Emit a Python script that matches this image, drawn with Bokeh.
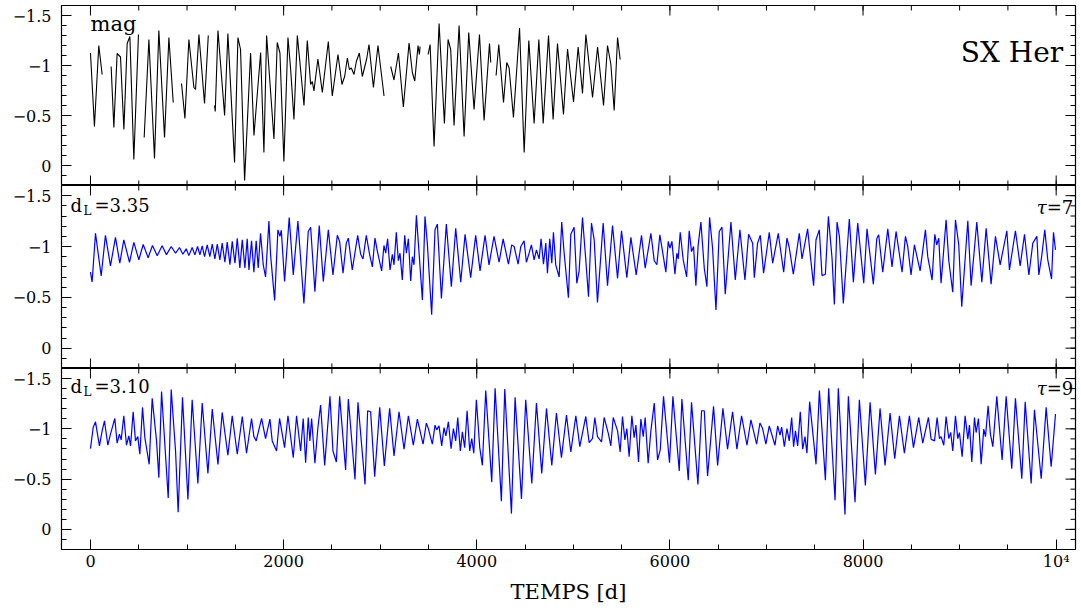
from bokeh.plotting import figure
from bokeh.layouts import column
from bokeh.models import Range1d, FixedTicker, Label
from bokeh.embed import file_html
from bokeh.resources import INLINE

# ---------------- data (time in days, magnitude) ----------------
# observed light curve of SX Her, split where the record has gaps
obs_segments = [
    [(0, -1.125), (41, -0.39), (86, -1.2), (121, -0.91)],
    [(214, -0.99), (242, -0.38), (276, -1.12), (311, -1.085), (346, -0.36), (380, -1.22),
     (408, -1.29), (449, -0.06), (497, -1.31)],
    [(556, -0.28), (605, -1.26), (663, -0.07), (708, -1.35), (767, -0.28), (812, -1.28), (857, -0.63)],
    [(943, -0.82), (978, -0.47), (1019, -1.26), (1071, -0.78), (1088, -0.76), (1123, -1.31),
     (1181, -0.62), (1220, -1.30)],
    [(1285, -0.60), (1292, -0.54), (1320, -1.35), (1389, -0.50), (1423, -1.32), (1492, -0.03),
     (1527, -1.28), (1554, -1.16), (1596, 0.15), (1658, -1.125), (1693, -0.30), (1762, -1.13),
     (1796, -0.13), (1824, -1.30), (1900, -0.265), (1934, -1.23), (1962, -1.125), (2003, -0.04),
     (2045, -1.28), (2073, -0.96), (2107, -0.46), (2142, -1.30), (2169, -1.03), (2211, -0.60),
     (2245, -1.25), (2280, -0.81), (2297, -0.84), (2314, -0.745), (2355, -1.065), (2401, -0.73),
     (2463, -1.24), (2504, -0.695), (2563, -1.11), (2604, -0.81), (2632, -0.89), (2660, -1.075),
     (2681, -0.96), (2701, -0.975), (2729, -0.91), (2753, -1.04), (2784, -1.125), (2815, -0.89),
     (2860, -1.065), (2884, -1.21), (2930, -0.78), (2977, -1.20), (3040, -0.695)],
    [(3109, -0.99), (3143, -0.855), (3189, -1.125), (3240, -0.585), (3299, -1.225), (3333, -0.93),
     (3358, -0.845), (3392, -1.20), (3406, -1.11), (3413, -1.19)],
    [(3496, -1.11), (3517, -1.21), (3558, -0.19), (3610, -1.42), (3665, -0.42), (3703, -1.26),
     (3730, -1.16), (3765, -0.40), (3817, -1.40), (3869, -0.29), (3917, -1.33), (3972, -0.56),
     (4028, -1.31), (4076, -0.45), (4132, -1.22), (4145, -1.03)],
    [(4200, -0.90), (4228, -1.21), (4277, -0.63), (4311, -1.03), (4335, -0.975), (4380, -0.48),
     (4415, -0.975), (4443, -1.375), (4491, -0.13), (4539, -1.25), (4594, -0.42), (4643, -1.26),
     (4688, -0.42), (4743, -1.30), (4791, -0.46), (4836, -1.22), (4898, -0.51), (4940, -1.165),
     (5002, -0.635), (5050, -1.185), (5095, -0.72), (5130, -1.31), (5147, -1.16), (5199, -0.68),
     (5251, -1.185), (5313, -0.60), (5354, -1.20), (5389, -1.01), (5423, -0.55), (5458, -1.28),
     (5485, -1.06)],
]

# model with d_L = 3.35, tau = 7
model_335 = [
    (0, -0.747), (17, -0.65), (52, -1.13), (111, -0.71), (155, -1.11), (207, -0.81), (259, -1.09),
    (304, -0.835), (345, -1.066), (404, -0.845), (449, -1.04), (501, -0.87), (546, -1.02),
    (597, -0.89), (642, -1.01), (691, -0.91), (742, -1.007), (787, -0.92), (836, -1.0), (881, -0.934),
    (922, -0.99), (957, -0.924), (991, -0.977), (1019, -0.91), (1053, -0.99), (1081, -0.918),
    (1109, -1.0), (1133, -0.918), (1157, -1.007), (1181, -0.90), (1209, -1.016), (1236, -0.90),
    (1261, -1.023), (1288, -0.878), (1313, -1.023), (1340, -0.868), (1364, -1.033), (1392, -0.845),
    (1416, -1.043), (1444, -0.82), (1468, -1.05), (1496, -0.835), (1520, -1.08), (1547, -0.79),
    (1572, -1.066), (1599, -0.79), (1623, -1.075), (1641, -0.77), (1668, -1.056), (1692, -0.747),
    (1716, -1.056), (1737, -0.79), (1761, -1.13), (1789, -0.82), (1813, -0.70), (1848, -1.25),
    (1865, -0.918), (1907, -0.47), (1941, -1.164), (1962, -1.10), (1976, -1.16), (2010, -0.655),
    (2058, -1.286), (2100, -0.72), (2148, -1.25), (2210, -0.44), (2255, -1.148), (2280, -1.19),
    (2324, -0.556), (2369, -1.207), (2411, -0.655), (2463, -1.164),
    (2511, -0.72), (2556, -1.11), (2580, -1.05), (2615, -0.737), (2649, -1.033), (2670, -1.082),
    (2711, -0.77), (2767, -1.11), (2798, -0.924), (2822, -0.878), (2856, -1.11), (2891, -0.918),
    (2919, -0.80), (2946, -1.082), (2970, -0.957), (3015, -0.76), (3039, -1.01), (3057, -0.934),
    (3077, -1.076), (3102, -0.77), (3126, -0.924), (3143, -0.82), (3167, -1.14), (3188, -0.86),
    (3205, -0.934), (3229, -0.67), (3254, -1.11), (3271, -0.934), (3292, -1.076), (3316, -0.66),
    (3333, -0.90), (3350, -0.82), (3375, -1.306), (3409, -0.85), (3437, -0.474), (3464, -1.296),
    (3488, -1.033), (3533, -0.33), (3568, -1.164), (3592, -1.22), (3634, -0.49), (3685, -1.22),
    (3737, -0.605), (3782, -1.18), (3834, -0.648), (3879, -1.12), (3937, -0.694), (3989, -1.11),
    (4034, -0.76), (4086, -1.11), (4127, -0.82), (4179, -1.10), (4231, -0.845), (4273, -1.076),
    (4328, -0.826), (4362, -1.016), (4387, -1.0), (4428, -0.826), (4456, -1.0), (4490, -1.056),
    (4514, -0.845), (4542, -0.934), (4566, -1.016), (4594, -0.868), (4618, -0.967), (4646, -0.878),
    (4666, -1.076), (4691, -0.826), (4715, -1.033), (4732, -0.737), (4756, -1.076), (4777, -0.835),
    (4794, -1.14), (4818, -0.82), (4853, -0.70), (4880, -1.24), (4905, -0.934), (4949, -0.497),
    (4974, -1.12), (5008, -1.19),
    (5036, -0.638), (5060, -0.76), (5095, -1.286), (5129, -0.868), (5157, -0.507), (5188, -1.23),
    (5216, -1.066), (5250, -0.45), (5309, -1.23), (5354, -0.615), (5406, -1.207), (5458, -0.687),
    (5499, -1.155), (5554, -0.694), (5596, -1.09), (5651, -0.72), (5706, -1.11), (5744, -0.786),
    (5803, -1.13), (5838, -0.86), (5865, -0.82), (5896, -1.115), (5924, -0.95), (5958, -0.747),
    (5983, -1.05), (6000, -0.983), (6021, -1.05), (6052, -0.727), (6072, -0.934), (6086, -0.878),
    (6107, -1.14), (6138, -0.868), (6173, -0.70), (6200, -1.155), (6224, -0.95), (6245, -1.0),
    (6269, -0.615), (6293, -1.016), (6321, -1.24), (6356, -0.786), (6383, -0.605), (6411, -1.286),
    (6442, -0.983), (6477, -0.375), (6511, -1.148), (6539, -1.19), (6573, -0.53), (6632, -1.24),
    (6677, -0.67), (6725, -1.164), (6777, -0.67), (6815, -1.12), (6857, -1.033), (6874, -0.694),
    (6908, -1.033), (6936, -1.11), (6970, -0.737), (7029, -1.14), (7064, -0.835), (7122, -1.13),
    (7178, -0.747), (7212, -1.082), (7236, -0.99), (7278, -0.727), (7340, -1.13), (7368, -0.878),
    (7426, -1.174), (7454, -0.91), (7488, -0.615), (7513, -1.066), (7547, -1.164),
    (7575, -0.714), (7610, -0.727), (7641, -1.296), (7679, -0.885), (7703, -0.43), (7731, -1.24),
    (7755, -1.10), (7796, -0.44), (7858, -1.27), (7900, -0.648), (7945, -1.23), (8007, -0.638),
    (8041, -1.174), (8107, -0.628), (8142, -1.076), (8162, -1.115), (8204, -0.747), (8256, -1.174),
    (8300, -0.80), (8342, -1.148), (8404, -0.747), (8439, -1.10), (8463, -1.0), (8497, -0.72),
    (8532, -1.016), (8591, -0.76), (8646, -1.164), (8670, -0.90), (8715, -0.67), (8743, -1.12),
    (8763, -1.016), (8784, -1.082), (8808, -0.638), (8860, -1.263), (8888, -0.86), (8929, -0.55),
    (8957, -1.263), (8991, -1.016), (9022, -0.408), (9085, -1.253), (9119, -0.615), (9178, -1.24),
    (9230, -0.648), (9275, -1.18), (9326, -0.628), (9371, -1.10), (9420, -0.82), (9489, -1.155),
    (9516, -0.77), (9578, -1.155), (9627, -0.81), (9672, -1.12), (9717, -0.72), (9758, -1.033),
    (9800, -1.10), (9820, -0.72), (9848, -0.89), (9882, -1.164), (9913, -0.868), (9952, -0.68),
    (9972, -1.14), (9993, -0.967),
]

# model with d_L = 3.10, tau = 9
model_310 = [
    (0, -0.803), (28, -1.013), (52, -1.07), (93, -0.83), (121, -0.98), (145, -1.08), (180, -0.837),
    (207, -0.947), (252, -1.103), (276, -0.857), (300, -0.947), (318, -0.89), (345, -1.13),
    (373, -0.837), (397, -0.93), (415, -0.83), (442, -1.17), (466, -0.88), (490, -0.923),
    (511, -0.747), (539, -1.213), (563, -0.913), (608, -0.647), (639, -1.303), (684, -0.88),
    (708, -0.513), (736, -1.37), (805, -0.313), (836, -1.39), (881, -0.78), (908, -0.17),
    (953, -1.313), (1009, -0.297), (1053, -1.29), (1112, -0.457), (1157, -1.257), (1216, -0.557),
    (1261, -1.197), (1320, -0.647), (1364, -1.163), (1423, -0.737), (1468, -1.13), (1520, -0.747),
    (1572, -1.123), (1616, -0.757), (1668, -1.103), (1692, -0.923), (1716, -0.88), (1772, -1.103),
    (1813, -0.903), (1858, -1.097), (1882, -0.88), (1927, -0.78), (1958, -1.103), (2010, -0.813),
    (2045, -1.13), (2100, -0.713), (2134, -1.13), (2176, -0.78), (2203, -1.103), (2228, -0.663),
    (2255, -1.113), (2272, -0.88), (2290, -1.103), (2324, -0.657), (2355, -1.013), (2383, -1.237),
    (2425, -0.637), (2480, -1.323),
    (2511, -0.78), (2546, -0.67), (2580, -1.323), (2642, -0.59), (2670, -1.297), (2739, -0.497),
    (2770, -1.263), (2843, -0.447), (2870, -1.18), (2901, -1.17), (2943, -0.523), (2995, -1.213),
    (3043, -0.63), (3098, -1.203), (3143, -0.73), (3195, -1.17), (3247, -0.797), (3292, -1.13),
    (3343, -0.837), (3385, -1.097), (3444, -0.847), (3478, -1.057), (3499, -1.003), (3540, -0.847),
    (3568, -1.037), (3585, -0.99), (3609, -1.03), (3637, -0.83), (3661, -1.013), (3680, -0.93),
    (3706, -1.07), (3734, -0.803), (3758, -1.003), (3782, -0.88), (3803, -1.113), (3830, -0.78),
    (3851, -0.97), (3875, -0.813), (3900, -1.18), (3927, -0.78), (3948, -0.903), (3969, -0.757),
    (3996, -1.29), (4031, -0.813), (4058, -0.637), (4093, -1.38), (4155, -0.47), (4190, -1.403),
    (4255, -0.28), (4290, -1.397), (4359, -0.157), (4397, -1.313), (4463, -0.303), (4507, -1.29),
    (4570, -0.457), (4618, -1.257), (4673, -0.557), (4722, -1.203), (4777, -0.637), (4825, -1.157),
    (4877, -0.713), (4929, -1.137), (4974, -0.77),
    (5026, -1.13), (5067, -0.823), (5129, -1.123), (5164, -0.863), (5198, -0.903), (5223, -1.113),
    (5250, -0.923), (5292, -0.87), (5319, -1.113), (5364, -0.947), (5388, -0.83), (5413, -1.113),
    (5458, -0.98), (5485, -0.77), (5509, -1.123), (5534, -0.89), (5554, -1.003), (5578, -0.723),
    (5606, -1.13), (5630, -0.913), (5648, -1.037), (5675, -0.67), (5699, -1.097), (5724, -0.923),
    (5744, -1.113), (5775, -0.657), (5803, -0.98), (5838, -1.257), (5872, -0.69), (5900, -0.79),
    (5934, -1.323), (5996, -0.663), (6031, -1.323), (6097, -0.58), (6124, -1.297), (6190, -0.49),
    (6224, -1.263), (6290, -0.447), (6328, -1.18), (6356, -1.18), (6390, -0.53), (6452, -1.223),
    (6494, -0.637), (6549, -1.203), (6597, -0.797), (6649, -1.17), (6694, -0.797), (6742, -1.13),
    (6798, -0.837), (6839, -1.09), (6898, -0.847), (6932, -1.057), (6960, -1.003), (6994, -0.847),
    (7029, -1.03), (7088, -0.837), (7116, -1.03), (7140, -0.937), (7157, -1.017), (7185, -0.823),
    (7212, -1.003), (7236, -0.88), (7261, -1.113), (7281, -0.823), (7300, -0.98), (7323, -0.83),
    (7350, -1.17), (7375, -0.797), (7399, -0.923), (7419, -0.757), (7447, -1.27), (7513, -0.647),
    (7548, -1.38),
    (7610, -0.49), (7644, -1.403), (7710, -0.29), (7744, -1.403), (7813, -0.147), (7848, -1.323),
    (7917, -0.27), (7962, -1.29), (8024, -0.437), (8073, -1.263), (8128, -0.547), (8176, -1.203),
    (8228, -0.637), (8280, -1.157), (8328, -0.703), (8377, -1.13), (8428, -0.757), (8480, -1.13),
    (8522, -0.813), (8577, -1.113), (8618, -0.857), (8677, -1.113), (8705, -0.897), (8740, -0.88),
    (8767, -1.113), (8791, -0.903), (8808, -0.923), (8836, -0.837), (8860, -1.123), (8888, -0.903),
    (8908, -0.963), (8929, -0.78), (8957, -1.13), (8981, -0.903), (8998, -0.963), (9026, -0.723),
    (9057, -1.13), (9085, -0.897), (9102, -1.037), (9126, -0.67), (9154, -1.113), (9171, -0.963),
    (9195, -1.103), (9223, -0.647), (9250, -0.997), (9268, -0.923), (9295, -1.23), (9319, -0.947),
    (9344, -0.823), (9385, -1.323), (9440, -0.69), (9482, -1.323), (9540, -0.603), (9578, -1.303),
    (9644, -0.503), (9679, -1.27), (9741, -0.457), (9775, -1.19), (9845, -0.503), (9896, -1.213),
    (9948, -0.623), (9993, -1.147),
]

x_ticks = [0, 2000, 4000, 6000, 8000, 10000]
x_tick_labels = ["0", "2000", "4000", "6000", "8000", "10\u2074"]
x_minor_ticks = list(range(-500, 10501, 500))
y_ticks = [-1.5, -1.0, -0.5, 0.0]
y_tick_labels = ["\u22121.5", "\u22121", "\u22120.5", "0"]
y_minor_ticks = [round(-1.7 + 0.1 * i, 1) for i in range(21)]
# ----------------------------------------------------------------

FONT = "DejaVu Serif"
X0, X1 = -300, 10200
Y_BOT, Y_TOP = 0.2, -1.6
W = 1079
FRAME_W = 1014
MAJ_LEN, MIN_LEN = 10, 5


def style_axis(ax, ticks, minor, labels, standoff):
    ax.ticker = FixedTicker(ticks=ticks, minor_ticks=minor)
    ax.axis_line_color = None
    ax.major_tick_in = MAJ_LEN
    ax.major_tick_out = 0
    ax.minor_tick_in = MIN_LEN
    ax.minor_tick_out = 0
    ax.major_tick_line_color = "black"
    ax.minor_tick_line_color = "black"
    ax.major_tick_line_width = 1
    ax.minor_tick_line_width = 1
    ax.major_label_overrides = {t: l for t, l in zip(ticks, labels)}
    ax.major_label_text_font = FONT
    ax.major_label_text_font_size = "16px"
    ax.major_label_text_color = "black"
    ax.major_label_standoff = standoff


def edge_ticks(p, frame_h, top=True, bottom=False, right=True):
    """inward tick marks on the unlabelled edges of a panel"""
    dy = (Y_BOT - Y_TOP) / frame_h   # data units per pixel (vertical)
    dx = (X1 - X0) / FRAME_W         # data units per pixel (horizontal)
    xs0, xs1, ys0, ys1 = [], [], [], []
    for ticks, ln in ((x_ticks, MAJ_LEN), ([t for t in x_minor_ticks if X0 < t < X1], MIN_LEN)):
        for t in ticks:
            if top:
                xs0.append(t); xs1.append(t); ys0.append(Y_TOP); ys1.append(Y_TOP + ln * dy)
            if bottom:
                xs0.append(t); xs1.append(t); ys0.append(Y_BOT); ys1.append(Y_BOT - ln * dy)
    if right:
        for ticks, ln in ((y_ticks, MAJ_LEN), ([t for t in y_minor_ticks if Y_TOP < t < Y_BOT], MIN_LEN)):
            for t in ticks:
                xs0.append(X1); xs1.append(X1 - ln * dx); ys0.append(t); ys1.append(t)
    p.segment(xs0, ys0, xs1, ys1, line_color="black", line_width=1)


def make_panel(frame_h, top, bottom, with_x_axis):
    p = figure(width=W, height=frame_h + top + bottom, output_backend="svg",
               toolbar_location=None, x_range=Range1d(X0, X1), y_range=Range1d(Y_BOT, Y_TOP),
               min_border_left=61, min_border_right=W - 61 - FRAME_W, min_border_top=top,
               min_border_bottom=bottom, x_axis_location="below" if with_x_axis else None)
    p.grid.visible = False
    p.outline_line_color = "black"
    p.outline_line_width = 1.2
    p.background_fill_color = "white"
    p.border_fill_color = "white"
    style_axis(p.yaxis[0], y_ticks, y_minor_ticks, y_tick_labels, 10)
    if with_x_axis:
        style_axis(p.xaxis[0], x_ticks, x_minor_ticks, x_tick_labels, 2)
    edge_ticks(p, frame_h, top=True, bottom=not with_x_axis, right=True)
    return p


def label(p, x, y, text, size, align="left", style="normal"):
    p.add_layout(Label(x=x, y=y, text=text, text_font=FONT, text_font_size=size,
                       text_font_style=style, text_align=align,
                       text_baseline="alphabetic", text_color="black"))


# panel 1: observations
p1 = make_panel(180, 5, 0, False)
for seg in obs_segments:
    t, m = zip(*seg)
    p1.line(list(t), list(m), line_color="black", line_width=1.1)
label(p1, 0, -1.42, "mag", "21px")
label(p1, 10073, -1.13, "SX Her", "28px", "right")

# panel 2: d_L = 3.35
p2 = make_panel(183, 0, 0, False)
t, m = zip(*model_335)
p2.line(list(t), list(m), line_color="#0000ff", line_width=1.2)
label(p2, -207, -1.405, "d", "18px")
label(p2, -72, -1.345, "L", "12px")
label(p2, 41, -1.405, "=3.35", "18px")
label(p2, 9902, -1.38, "\u03c4", "18px", "right", "italic")
label(p2, 10177, -1.38, "=7", "18px", "right")

# panel 3: d_L = 3.10
p3 = make_panel(182, 0, 56, True)
t, m = zip(*model_310)
p3.line(list(t), list(m), line_color="#0000ff", line_width=1.2)
label(p3, -207, -1.423, "d", "18px")
label(p3, -72, -1.363, "L", "12px")
label(p3, 41, -1.423, "=3.10", "18px")
label(p3, 9902, -1.397, "\u03c4", "18px", "right", "italic")
label(p3, 10177, -1.397, "=9", "18px", "right")
xa = p3.below[0]
xa.axis_label = "TEMPS [d]"
xa.axis_label_text_font = FONT
xa.axis_label_text_font_size = "21px"
xa.axis_label_text_font_style = "normal"
xa.axis_label_text_color = "black"
xa.axis_label_standoff = 6

layout = column(p1, p2, p3, spacing=0)
open("out.html", "w").write(file_html(layout, INLINE))
